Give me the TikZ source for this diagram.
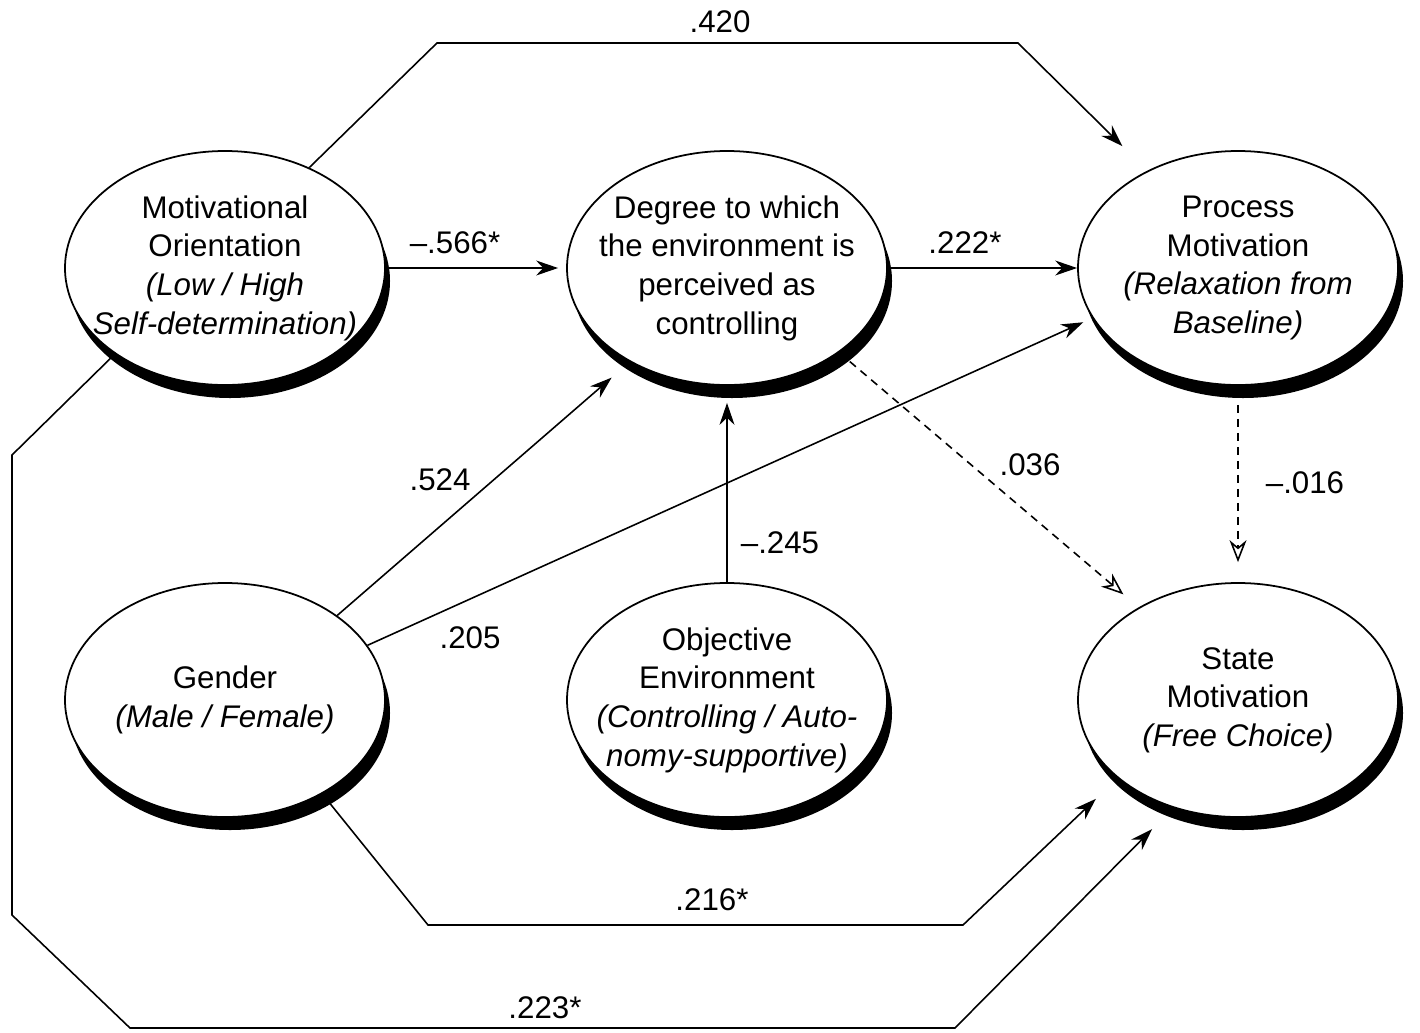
\documentclass[tikz,border=0pt]{standalone}
\usepackage{fontspec}
\setmainfont{Liberation Sans}
\usetikzlibrary{arrows.meta,shapes.geometric,shadows}
\begin{document}
\begin{tikzpicture}[
    var/.style={ellipse, draw, line width=0.5pt, fill=white,
      minimum width=3.2cm, minimum height=2.34cm, inner sep=-1.5cm,
      align=center, font=\fontsize{8.9}{11}\selectfont,
      general shadow={fill=black, shadow xshift=0.05cm, shadow yshift=-0.13cm}},
    arr/.style={line width=0.45pt, -{Stealth[length=0.22cm,width=0.15cm]}},
    darr/.style={line width=0.45pt, dash pattern=on 0.08cm off 0.06cm,
      -{Stealth[open,length=0.22cm,width=0.17cm]}},
    lab/.style={font=\fontsize{8.9}{11}\selectfont}]
  \useasboundingbox (0,0) rectangle (14.2,10.32);
  % variables
  \node[var] (mot) at (2.25,7.64) {Motivational\\Orientation\\\textit{(Low / High}\\\textit{Self-determination)}};
  \node[var] (deg) at (7.27,7.64) {Degree to which\\the environment is\\perceived as\\controlling};
  \node[var] (proc) at (12.38,7.64) {Process\\Motivation\\\textit{(Relaxation from}\\\textit{Baseline)}};
  \node[var] (gen) at (2.25,3.32) {Gender\\\textit{(Male / Female)}};
  \node[var] (obj) at (7.27,3.32) {Objective\\Environment\\\textit{(Controlling / Auto-}\\\textit{nomy-supportive)}};
  \node[var] (state) at (12.38,3.32) {State\\Motivation\\\textit{(Free Choice)}};
  % paths
  \draw[arr, shorten >=0.08cm] (mot.east) -- (deg.west);
  \draw[arr] (deg.east) -- (proc.west);
  \draw[arr, shorten >=0.17cm] (obj.north) -- (deg.south);
  \draw[arr, shorten >=0.24cm] (gen.37) -- (deg.224);
  \draw[arr, shorten >=0.1cm] (gen.21) -- (proc.199);
  \draw[darr, shorten >=0.2cm] (deg.-37) -- (state.137);
  \draw[darr, shorten <=0.19cm, shorten >=0.2cm] (proc.south) -- (state.north);
  \draw[arr, shorten >=0.35cm] (mot.50) -- (4.37,9.89) -- (10.18,9.89) -- (proc.133);
  \draw[arr, shorten >=0.3cm] (gen.-44) -- (4.28,1.07) -- (9.63,1.07) -- (state.213);
  \draw[arr, shorten >=0.3cm] (mot.218) -- (0.12,5.77) -- (0.12,1.17) -- (1.30,0.04) -- (9.55,0.04) -- (state.239);
  % coefficients
  \node[lab] (c1) at (7.20,10.10) {.420};
  \node[lab] (c2) at (4.55,7.89) {\textendash.566*};
  \node[lab] (c3) at (9.65,7.89) {.222*};
  \node[lab] (c4) at (4.40,5.52) {.524};
  \node[lab] (c5) at (4.70,3.94) {.205};
  \node[lab] (c6) at (7.80,4.89) {\textendash.245};
  \node[lab] (c7) at (10.30,5.67) {.036};
  \node[lab] (c8) at (13.05,5.49) {\textendash.016};
  \node[lab] (c9) at (7.12,1.32) {.216*};
  \node[lab] (c10) at (5.45,0.24) {.223*};
\end{tikzpicture}
\end{document}
